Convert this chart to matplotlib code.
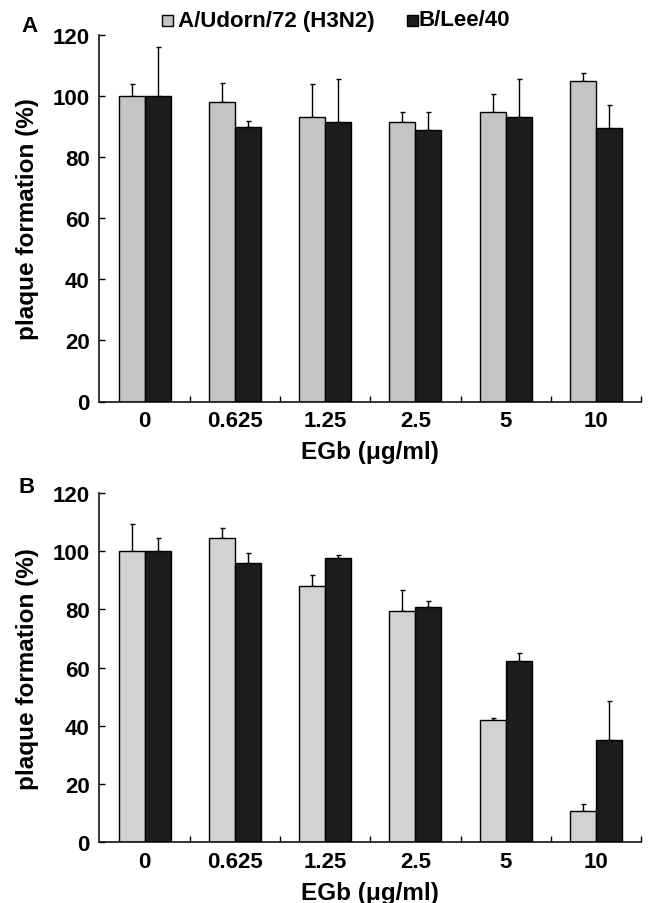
import numpy as np
import matplotlib
matplotlib.use("Agg")
import matplotlib.pyplot as plt
from matplotlib.patches import Rectangle

plt.rcParams['font.family'] = ['Liberation Sans', 'DejaVu Sans']
plt.rcParams['font.weight'] = 'bold'

# EGb concentrations (ug/ml)
doses = ["0", "0.625", "1.25", "2.5", "5", "10"]
series_names = ["A/Udorn/72 (H3N2)", "B/Lee/40"]

# panel A - plaque formation (%)
a_udorn = [100, 98.0, 92.9, 91.3, 94.6, 104.8]
a_udorn_err = [3.8, 6.0, 10.9, 3.5, 6.0, 2.7]
a_lee = [100, 89.9, 91.5, 88.9, 93.1, 89.3]
a_lee_err = [15.8, 1.7, 14.0, 5.7, 12.4, 7.7]

# panel B
b_udorn = [100, 104.5, 88.2, 79.3, 42.1, 10.9]
b_udorn_err = [9.4, 3.5, 3.7, 7.4, 0.5, 2.3]
b_lee = [100, 95.9, 97.6, 80.7, 62.4, 35.2]
b_lee_err = [4.6, 3.5, 1.2, 2.1, 2.6, 13.5]

LIGHT_A = "#c4c4c4"
LIGHT_B = "#d2d2d2"
DARK = "#1c1c1c"
W, H = 648, 904


def px_axes(fig, left, top, right, bottom):
    return fig.add_axes([left / W, 1 - bottom / H, (right - left) / W, (bottom - top) / H])


def draw_panel(ax, s1, e1, s2, e2, light):
    x = np.arange(len(doses))
    bw = 0.288
    ax.bar(x - bw / 2, s1, bw, color=light, edgecolor="black", linewidth=1.0, zorder=2)
    ax.bar(x + bw / 2, s2, bw, color=DARK, edgecolor="black", linewidth=1.0, zorder=2)
    ax.errorbar(x - bw / 2, s1, yerr=[np.zeros(len(e1)), e1], fmt="none",
                ecolor="black", elinewidth=1.0, capsize=1.8, capthick=1.0, zorder=1)
    ax.errorbar(x + bw / 2, s2, yerr=[np.zeros(len(e2)), e2], fmt="none",
                ecolor="black", elinewidth=1.0, capsize=1.8, capthick=1.0, zorder=1)
    ax.set_xlim(-0.5, len(doses) - 0.5)
    ax.set_ylim(0, 120)
    ax.set_yticks(range(0, 121, 20))
    ax.set_xticks(x)
    ax.set_xticklabels(doses)
    ax.set_xticks(np.arange(0.5, len(doses)), minor=True)
    ax.tick_params(axis="x", which="major", length=0, pad=6, labelsize=16)
    ax.tick_params(axis="x", which="minor", direction="in", length=4, width=1.0)
    ax.tick_params(axis="y", direction="in", length=4, width=1.0, pad=7, labelsize=16)
    for s in ("top", "right"):
        ax.spines[s].set_visible(False)
    for s in ("left", "bottom"):
        ax.spines[s].set_linewidth(1.1)


fig = plt.figure(figsize=(W / 100, H / 100), dpi=100)

axA = px_axes(fig, 99.5, 35.5, 641, 402.5)
draw_panel(axA, a_udorn, a_udorn_err, a_lee, a_lee_err, LIGHT_A)
axB = px_axes(fig, 99.5, 494, 641, 843.3)
draw_panel(axB, b_udorn, b_udorn_err, b_lee, b_lee_err, LIGHT_B)

# axis titles placed by pixel
for yc, yb in [(219, 459), (669, 900)]:
    fig.text(27.5 / W, 1 - yc / H, "plaque formation (%)", fontsize=17.5, rotation=90,
             ha="center", va="center")
    fig.text(370 / W, 1 - yb / H, "EGb (\u03bcg/ml)", fontsize=17.5, ha="center", va="baseline")

fig.text(29 / W, 1 - 26 / H, "A", fontsize=16, ha="center", va="center")
fig.text(26.5 / W, 1 - 487.5 / H, "B", fontsize=16, ha="center", va="center")

# legend along the top
for (x0, col, name, tx) in [(162, LIGHT_A, series_names[0], 178), (407, DARK, series_names[1], 419)]:
    fig.patches.append(Rectangle((x0 / W, 1 - 26.5 / H), 11 / W, 11 / H, transform=fig.transFigure,
                                 facecolor=col, edgecolor="black", linewidth=1.0))
    fig.text(tx / W, 1 - 21 / H, name, fontsize=16, ha="left", va="center")

fig.savefig("out.png", dpi=100)
